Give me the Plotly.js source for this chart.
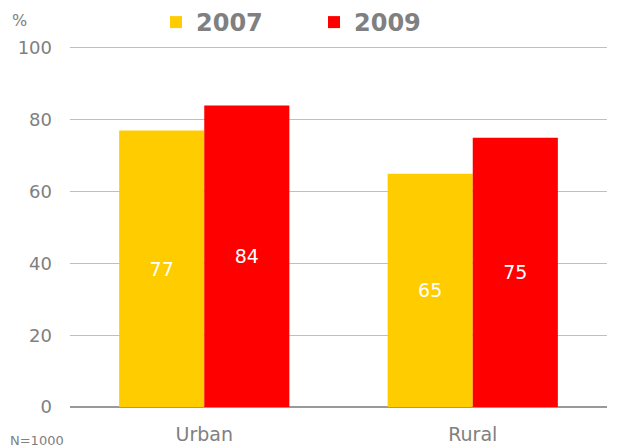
<!DOCTYPE html>
<html><head><meta charset="utf-8">
<script src="https://cdn.plot.ly/plotly-3.0.1.min.js"></script>
<style>html,body{margin:0;padding:0;background:#fff}</style>
</head><body>
<div id="chart" style="width:629px;height:447px"></div>
<script>
const categories = ["Urban", "Rural"];
const seriesNames = ["2007", "2009"];
const values2007 = [77, 65];
const values2009 = [84, 75];
const yTicks = [0, 20, 40, 60, 80, 100];

const font = "DejaVu Sans, Verdana, sans-serif";
const gray = "#808080";

const traces = [
  {type: "bar", name: seriesNames[0], x: categories, y: values2007,
   marker: {color: "#FFCC00"}, text: values2007.map(String),
   textposition: "inside", insidetextanchor: "middle",
   textfont: {color: "#fff", size: 19, family: font}, hoverinfo: "none"},
  {type: "bar", name: seriesNames[1], x: categories, y: values2009,
   marker: {color: "#FF0000"}, text: values2009.map(String),
   textposition: "inside", insidetextanchor: "middle",
   textfont: {color: "#fff", size: 19, family: font}, hoverinfo: "none"}
];

const layout = {
  width: 629, height: 447,
  margin: {l: 70, r: 22, t: 46, b: 40},
  paper_bgcolor: "#fff", plot_bgcolor: "#fff",
  font: {family: font, color: gray, size: 19},
  barmode: "group", bargap: 0.366, bargroupgap: 0,
  showlegend: true,
  legend: {orientation: "h", x: 0.248, xanchor: "left", xref: "container",
           y: 1.0, yanchor: "top", yref: "container",
           font: {size: 24, color: gray, family: font, weight: "bold"},
           itemwidth: 30, traceorder: "normal", entrywidth: 113,
           bgcolor: "rgba(0,0,0,0)"},
  xaxis: {showgrid: false, showline: false, zeroline: false, ticks: "",
          tickfont: {size: 19, color: gray}, ticklabelstandoff: 14},
  yaxis: {range: [0, 100.55], tickvals: yTicks, ticktext: yTicks.map(String),
          showgrid: true, gridcolor: "#BFBFBF", gridwidth: 1,
          zeroline: true, zerolinecolor: "#999999", zerolinewidth: 2,
          showline: false, ticks: "", tickfont: {size: 18, color: gray},
          ticklabelstandoff: 17},
  annotations: [
    {text: "%", xref: "paper", yref: "paper", x: 0, y: 1, xanchor: "center", yanchor: "middle",
     xshift: -51, yshift: 26, showarrow: false, font: {size: 16, color: gray, family: font}},
    {text: "N=1000", xref: "paper", yref: "paper", x: 0, y: 0, xanchor: "center", yanchor: "middle",
     xshift: -33, yshift: -33, showarrow: false, font: {size: 13, color: gray, family: font}}
  ]
};

Plotly.newPlot("chart", traces, layout, {displayModeBar: false, staticPlot: true});
</script>
</body></html>
